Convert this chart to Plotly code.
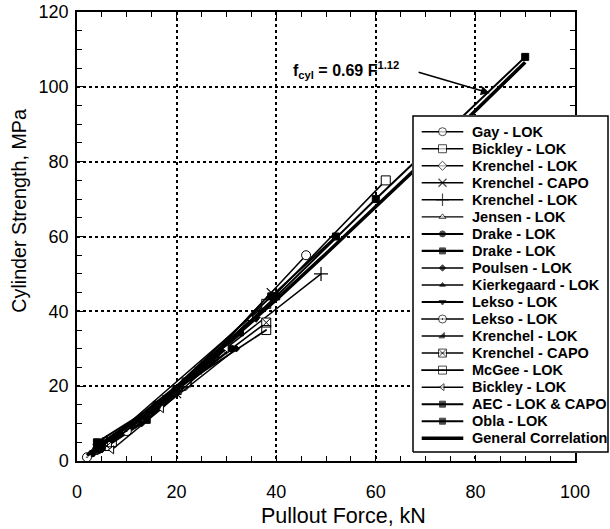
import plotly.graph_objects as go

# ---- data ----
names = ["Gay - LOK", "Bickley - LOK", "Krenchel - LOK", "Krenchel - CAPO", "Krenchel - LOK",
         "Jensen - LOK", "Drake - LOK", "Drake - LOK", "Poulsen - LOK", "Kierkegaard - LOK",
         "Lekso - LOK", "Lekso - LOK", "Krenchel - LOK", "Krenchel - CAPO", "McGee - LOK",
         "Bickley - LOK", "AEC - LOK & CAPO", "Obla - LOK"]

gay_x = [4, 21.5, 46];            gay_y = [3, 20, 55]
bick1_x = [6, 38, 62];            bick1_y = [5, 42, 75]
kren1_x = [4, 16, 30];            kren1_y = [3, 15, 30]
kcapo1_x = [5, 20, 39];           kcapo1_y = [4, 18, 45]
kren2_x = [6, 25, 49];            kren2_y = [5, 25, 50]
jensen_x = [7, 16, 35];           jensen_y = [6, 15, 38]
drake1_x = [3, 14, 31];           drake1_y = [2, 12, 30]
drake2_x = [4, 14, 27];           drake2_y = [3, 11, 27]
poul_x = [5, 13, 32];             poul_y = [3, 10, 30]
kierk_x = [3, 15, 28];            kierk_y = [2, 13, 28]
lekso1_x = [4, 18, 36];           lekso1_y = [4, 17, 38]
lekso2_x = [2, 10, 22];           lekso2_y = [1, 8, 21]
kren3_x = [5, 17, 33];            kren3_y = [5, 16, 34]
kcapo2_x = [6, 20, 38];           kcapo2_y = [4, 19, 37]
mcgee_x = [7, 22, 38];            mcgee_y = [5, 21, 35]
bick2_x = [7, 17, 30];            bick2_y = [3, 14, 30]
aec_x = [5, 20, 40, 60, 90];      aec_y = [4, 19, 44, 70, 108]
obla_x = [4, 16, 39, 52];         obla_y = [5, 15, 44, 60]

gen_x = [2, 10, 20, 30, 40, 50, 60, 70, 80, 90]
gen_y = [1.5, 9.1, 19.8, 31.3, 43.1, 55.4, 68.0, 80.6, 93.6, 106.6]

xs = [gay_x, bick1_x, kren1_x, kcapo1_x, kren2_x, jensen_x, drake1_x, drake2_x, poul_x,
      kierk_x, lekso1_x, lekso2_x, kren3_x, kcapo2_x, mcgee_x, bick2_x, aec_x, obla_x]
ys = [gay_y, bick1_y, kren1_y, kcapo1_y, kren2_y, jensen_y, drake1_y, drake2_y, poul_y,
      kierk_y, lekso1_y, lekso2_y, kren3_y, kcapo2_y, mcgee_y, bick2_y, aec_y, obla_y]

# (symbol, size, fill colour, outline width, line width)
styles = [
    ("circle", 9, "white", 1, 1.5),
    ("square", 9, "white", 1, 1.5),
    ("diamond", 8, "white", 1, 1.5),
    ("x-thin-open", 9, "black", 1.2, 1.5),
    ("cross-thin-open", 10, "black", 1.2, 1.5),
    ("triangle-up", 7, "white", 1, 1.2),
    ("circle", 7, "black", 1, 2),
    ("square", 7, "black", 1, 2.8),
    ("diamond", 5, "black", 1, 1.5),
    ("triangle-up", 6, "black", 1, 1.5),
    ("triangle-down", 7, "black", 1, 1.8),
    ("circle-dot", 9, "white", 1, 1.5),
    ("triangle-se", 7, "black", 1, 1.5),
    ("square-x", 9, "white", 1, 1.5),
    ("square-open-dot", 9, "black", 1, 1.8),
    ("triangle-left", 7, "white", 1, 1.5),
    ("square", 7, "black", 1, 2),
    ("square", 7, "black", 1, 2),
]

FONT = "Liberation Sans, Arial, sans-serif"
fig = go.Figure()
for n, x, y, (s, sz, fc, ow, lw) in zip(names, xs, ys, styles):
    fig.add_trace(go.Scatter(
        x=x, y=y, name=n, mode="lines+markers", showlegend=False,
        line=dict(color="black", width=lw),
        marker=dict(symbol=s, size=sz, color=fc, line=dict(color="black", width=ow)),
    ))
fig.add_trace(go.Scatter(x=gen_x, y=gen_y, name="General Correlation", mode="lines",
                         showlegend=False, line=dict(color="black", width=3.5)))

axis_common = dict(
    showline=True, linecolor="black", linewidth=1.5, mirror="ticks", automargin=False,
    ticks="inside", ticklen=6, tickwidth=1.2, tickcolor="black",
    showgrid=True, gridcolor="black", griddash="dot", gridwidth=1.5,
    zeroline=False, tickfont=dict(size=18, color="black", family=FONT),
    minor=dict(ticks="inside", ticklen=5, tickwidth=1, tickcolor="black", dtick=5, showgrid=False),
)
fig.update_layout(
    xaxis=dict(range=[0, 100], dtick=20, domain=[0, 498 / 533], anchor="y",
               ticklabelstandoff=14, **axis_common),
    yaxis=dict(range=[0, 120], dtick=20, domain=[0, 1], anchor="x",
               ticklabelstandoff=3, **axis_common),
)

# axis titles
fig.add_annotation(x=53.6, y=-0.1225, xref="x", yref="paper", xanchor="center", yanchor="middle",
                   showarrow=False, text="Pullout Force, kN",
                   font=dict(size=21.5, color="black", family=FONT))
fig.add_annotation(x=-0.1165, y=0.5575, xref="x domain", yref="paper", xanchor="center",
                   yanchor="middle", showarrow=False, textangle=-90,
                   text="Cylinder Strength, MPa", font=dict(size=19.7, color="black", family=FONT))

# formula annotation with arrow
fig.add_annotation(x=82.9, y=98.3, ax=68.3, ay=104, axref="x", ayref="y", xref="x", yref="y",
                   text="", showarrow=True, arrowhead=2, arrowsize=1.2, arrowwidth=1.5, arrowcolor="black")
fig.add_annotation(x=54, y=104.5, xref="x", yref="y", showarrow=False,
                   text="<b>f<sub>cyl</sub> = 0.69 F<sup>1.12</sup></b>",
                   font=dict(size=16, color="black", family=FONT))

# ---- legend drawn in its own (pixel-unit) subplot ----
LX0, LX1, LY0, LY1 = 412, 609, 115, 453
fig.update_layout(
    xaxis2=dict(domain=[(LX0 - 77) / 533, (LX1 - 77) / 533], range=[LX0, LX1], visible=False,
                anchor="y2", fixedrange=True, automargin=False),
    yaxis2=dict(domain=[(461 - LY1) / 449, (461 - LY0) / 449], range=[LY1, LY0], visible=False,
                anchor="x2", fixedrange=True, automargin=False),
)
fig.add_trace(go.Scatter(x=[413, 608, 608, 413, 413], y=[452, 452, 116, 116, 452],
                         xaxis="x2", yaxis="y2", mode="lines", fill="toself",
                         fillcolor="white", line=dict(color="black", width=1.5),
                         showlegend=False, hoverinfo="skip"))
leg_names = names + ["General Correlation"]
leg_styles = styles + [(None, 0, "black", 0, 3.5)]
row0, drow = 131.7, 17.03
for i, (n, (s, sz, fc, ow, lw)) in enumerate(zip(leg_names, leg_styles)):
    yy = row0 + i * drow
    fig.add_trace(go.Scatter(
        x=[421.7, 442.5, 463.3], y=[yy, yy, yy], xaxis="x2", yaxis="y2",
        mode="lines" if s is None else "lines+markers", showlegend=False, hoverinfo="skip",
        line=dict(color="black", width=min(lw, 2.2) if s else lw),
        marker=dict(symbol=s or "circle", size=[0, max(sz - 1, 5), 0], color=fc,
                    line=dict(color="black", width=ow)),
    ))
    fig.add_annotation(x=470, y=yy, xref="x2", yref="y2", xanchor="left", yanchor="middle",
                       showarrow=False, text="<b>" + n + "</b>",
                       font=dict(size=14.5, color="black", family=FONT))

fig.update_layout(
    width=610, height=529,
    margin=dict(l=77, r=0, t=12, b=68),
    paper_bgcolor="white", plot_bgcolor="white",
    font=dict(family=FONT, color="black"),
    showlegend=False,
)

fig.write_html("out.html")
